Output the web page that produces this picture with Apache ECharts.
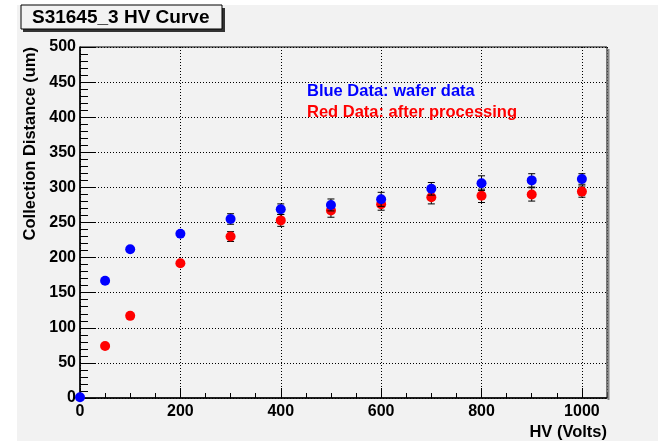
<!DOCTYPE html>
<html>
<head>
<meta charset="utf-8">
<script src="https://cdn.jsdelivr.net/npm/echarts@6/dist/echarts.min.js"></script>
<style>html,body{margin:0;padding:0;background:#fff}#c{width:658px;height:441px}</style>
</head>
<body>
<div id="c"></div>
<script>
var titleText = 'S31645_3 HV Curve';
var xTitle = 'HV (Volts)';
var yTitle = 'Collection Distance (um)';
var blueLabel = 'Blue Data: wafer data';
var redLabel = 'Red Data: after processing';

var blueX = [0, 50, 100, 200, 300, 400, 500, 600, 700, 800, 900, 1000];
var blueY = [1, 167, 212, 234, 255, 269, 275, 283, 298, 306, 310, 312];
var blueErr = [1, 2, 2, 2, 7.5, 7.5, 8.5, 10, 9, 10.5, 9.5, 7.5];

var redX = [50, 100, 200, 300, 400, 500, 600, 700, 800, 900, 1000];
var redY = [74, 117, 192, 230, 253, 267, 276, 286, 288, 290, 294];
var redErr = [2, 2, 2, 7, 8.5, 9.5, 8.5, 9.5, 9.5, 9.5, 8];

var xMin = 0, xMax = 1050, xMajor = 200, xMinor = 50;
var yMin = 0, yMax = 500, yMajor = 50;

function pts(xs, ys) { return xs.map(function (x, i) { return [x, ys[i]]; }); }
function errPts(xs, ys, es) { return xs.map(function (x, i) { return [x, ys[i] - es[i], ys[i] + es[i]]; }); }

var FONT = '"Liberation Sans", Arial, Helvetica, sans-serif';

function errRender(params, api) {
  var x = api.value(0);
  var lo = api.coord([x, api.value(1)]);
  var hi = api.coord([x, api.value(2)]);
  var w = 3.5;
  var st = { stroke: '#000', lineWidth: 1 };
  return {
    type: 'group',
    children: [
      { type: 'line', shape: { x1: lo[0], y1: lo[1], x2: hi[0], y2: hi[1] }, style: st },
      { type: 'line', shape: { x1: lo[0] - w, y1: lo[1], x2: lo[0] + w, y2: lo[1] }, style: st },
      { type: 'line', shape: { x1: hi[0] - w, y1: hi[1], x2: hi[0] + w, y2: hi[1] }, style: st }
    ]
  };
}

var chart = echarts.init(document.getElementById('c'), null, { renderer: 'canvas' });
chart.setOption({
  animation: false,
  backgroundColor: '#ffffff',
  graphic: [
    { type: 'rect', z: -10, shape: { x: 17, y: 5, width: 641, height: 436 }, style: { fill: '#f2f2f2' } },
    { type: 'rect', z: 10, shape: { x: 23, y: 8, width: 202, height: 24 }, style: { fill: '#333333' } },
    { type: 'rect', z: 11, shape: { x: 21, y: 5, width: 201, height: 24 }, style: { fill: '#f2f2f2', stroke: '#000', lineWidth: 1 } },
    { type: 'text', z: 12, x: 32, y: 17.5, style: { text: titleText, font: 'bold 19px ' + FONT, fill: '#000', verticalAlign: 'middle' } },
    { type: 'text', z: 12, x: 30, y: 47, rotation: Math.PI / 2, style: { text: yTitle, font: 'bold 16.5px ' + FONT, fill: '#000', align: 'right', verticalAlign: 'middle' } },
    { type: 'text', z: 12, x: 607, y: 432, style: { text: xTitle, font: 'bold 16.5px ' + FONT, fill: '#000', align: 'right', verticalAlign: 'middle' } },
    { type: 'text', z: 12, x: 307, y: 91, style: { text: blueLabel, font: 'bold 16.5px ' + FONT, fill: '#0000ff', verticalAlign: 'middle' } },
    { type: 'text', z: 12, x: 307, y: 112, style: { text: redLabel, font: 'bold 16.5px ' + FONT, fill: '#ff0000', verticalAlign: 'middle' } },
    { type: 'line', z: 12, shape: { x1: 608.5, y1: 49, x2: 608.5, y2: 400 }, style: { stroke: '#888', lineWidth: 2 } }
  ],
  grid: { left: 80, top: 47, width: 527, height: 351, show: true, backgroundColor: 'transparent', borderColor: '#000', borderWidth: 1 },
  xAxis: [
    {
      type: 'value', min: xMin, max: xMax, interval: xMajor,
      axisLine: { show: true, onZero: false, lineStyle: { color: '#000', width: 1.5 } },
      axisTick: { show: true, inside: true, length: 10, lineStyle: { color: '#000' } },
      axisLabel: { show: true, margin: 6, color: '#000', fontFamily: FONT, fontWeight: 'bold', fontSize: 16, showMaxLabel: false,
        formatter: function (v) { return v > 1000 ? '' : String(v); } },
      splitLine: { show: true, lineStyle: { color: '#000', type: [1, 2], width: 1 } }
    },
    {
      type: 'value', min: xMin, max: xMax, interval: xMinor, position: 'bottom',
      axisLine: { show: false },
      axisTick: { show: true, inside: true, length: 5, lineStyle: { color: '#000' } },
      axisLabel: { show: false },
      splitLine: { show: false }
    }
  ],
  yAxis: {
    type: 'value', min: yMin, max: yMax, interval: yMajor,
    axisLine: { show: true, onZero: false, lineStyle: { color: '#000', width: 1.5 } },
    axisTick: { show: true, inside: true, length: 15, lineStyle: { color: '#000' } },
    minorTick: { show: true, splitNumber: 5, length: 8, lineStyle: { color: '#000' } },
    axisLabel: { show: true, margin: 4, color: '#000', fontFamily: FONT, fontWeight: 'bold', fontSize: 16 },
    splitLine: { show: true, lineStyle: { color: '#000', type: [1, 2], width: 1 } }
  },
  series: [
    { name: 'redErr', type: 'custom', renderItem: errRender, data: errPts(redX, redY, redErr), encode: { x: 0, y: [1, 2] }, z: 3, silent: true },
    { name: 'red', type: 'scatter', symbol: 'circle', symbolSize: 10, itemStyle: { color: '#ff0000', opacity: 1 }, data: pts(redX, redY), z: 4 },
    { name: 'blueErr', type: 'custom', renderItem: errRender, data: errPts(blueX, blueY, blueErr), encode: { x: 0, y: [1, 2] }, z: 5, silent: true },
    { name: 'blue', type: 'scatter', symbol: 'circle', symbolSize: 10, itemStyle: { color: '#0000ff', opacity: 1 }, data: pts(blueX, blueY), z: 6 }
  ]
});
</script>
</body>
</html>
